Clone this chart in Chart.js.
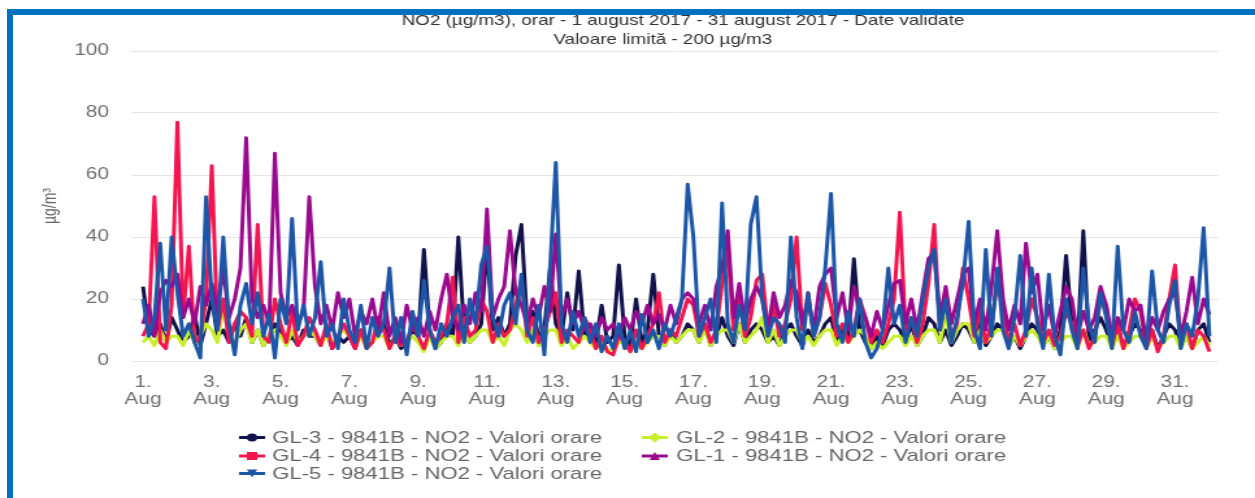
<!DOCTYPE html>
<html><head><meta charset="utf-8">
<script src="https://cdn.jsdelivr.net/npm/chart.js@4.4.1/dist/chart.umd.min.js"></script>
<style>
html,body{margin:0;padding:0;background:#fff;overflow:hidden;width:1255px;height:498px;}
#wrap{position:absolute;left:0;top:0;width:966px;height:498px;transform:scaleX(1.2992);transform-origin:0 0;}
#frame{position:absolute;left:7px;top:9px;width:1260px;height:500px;border-left:6px solid #0070c0;border-top:6px solid #0070c0;pointer-events:none;}
</style></head><body>
<div id="wrap"><canvas id="c" width="966" height="498"></canvas></div>
<div id="frame"></div>
<script>
// ---- texts ----
const TITLE = 'NO2 (µg/m3), orar - 1 august 2017 - 31 august 2017 - Date validate';
const SUBTITLE = 'Valoare limită - 200 µg/m3';
const Y_TITLE = 'µg/m³';
const MONTH = 'Aug';
const tickDays = [1,3,5,7,9,11,13,15,17,19,21,23,25,27,29,31];
const yTicks = [0,20,40,60,80,100];
const seriesNames = ['GL-3 - 9841B - NO2 - Valori orare','GL-2 - 9841B - NO2 - Valori orare','GL-4 - 9841B - NO2 - Valori orare','GL-1 - 9841B - NO2 - Valori orare','GL-5 - 9841B - NO2 - Valori orare'];
const STEP_HOURS = 4; // one value every 4 hours, starting 1 Aug 00:00

// ---- values (µg/m3), 6 per day ----
const GL3 = [
24,10,8,12,6,14, 10,6,8,15,5,12, 20,8,10,6,12,8, 14,6,10,5,8,12, 10,6,8,5,10,8,
8,5,10,4,8,6, 8,4,10,5,6,10, 12,5,8,4,6,10, 8,36,10,4,6,12, 8,40,10,6,8,12,
37,10,14,8,12,34, 44,12,16,8,10,30, 12,8,22,10,29,8, 10,6,18,6,8,31, 8,5,20,6,10,28,
8,5,10,6,8,12, 10,6,12,5,8,14, 8,5,12,6,10,12, 10,6,8,5,10,12, 8,5,10,6,8,12,
14,6,10,8,33,10, 6,4,8,5,10,12, 10,6,12,5,8,14, 12,6,10,5,8,12, 10,6,12,5,8,12,
10,5,8,4,8,12, 10,5,8,4,10,34, 12,5,42,6,10,14, 10,5,12,4,8,12, 10,5,10,4,8,12,
10,5,8,4,10,12, 6];
const GL2 = [
6,8,5,10,6,8, 8,5,10,6,8,12, 10,6,18,8,6,10, 12,6,10,5,8,10, 8,5,10,6,8,10,
8,5,8,6,8,10, 8,5,8,4,6,8, 8,4,8,5,6,8, 6,3,8,4,6,8, 8,5,10,6,8,10,
10,6,8,5,10,12, 10,6,10,5,8,10, 10,5,8,4,6,8, 6,4,6,3,4,6, 6,3,6,4,6,8,
8,5,8,6,8,10, 10,6,10,5,8,10, 10,6,12,6,8,10, 14,6,10,5,8,10, 10,6,8,5,8,10,
10,5,8,6,8,10, 8,4,6,4,6,8, 8,5,8,5,8,10, 10,6,15,6,10,12, 12,6,10,6,8,10,
10,5,8,5,8,10, 8,5,8,4,6,8, 8,4,10,5,6,8, 8,4,8,4,6,8, 8,4,8,4,6,8,
8,4,8,4,6,8, 5];
const GL4 = [
8,12,53,6,4,18, 77,14,37,6,8,20, 63,10,20,6,12,16, 14,8,44,8,6,20, 12,6,16,5,8,14,
10,5,12,4,8,12, 8,4,10,4,6,14, 10,4,8,5,6,12, 8,4,10,6,8,12, 27,6,14,8,10,20,
16,6,12,8,10,18, 26,8,14,6,10,16, 22,6,10,8,6,14, 10,4,8,3,2,8, 6,3,10,4,8,12,
22,6,10,8,14,20, 18,8,12,6,10,25, 36,10,20,8,14,26, 28,10,18,8,12,20, 40,10,22,8,14,25,
18,8,12,6,10,20, 14,6,10,6,12,20, 48,10,14,6,12,25, 44,10,20,8,12,30, 20,8,16,6,12,25,
18,6,12,5,10,20, 14,6,10,5,8,16, 12,5,10,4,8,20, 18,5,12,4,10,20, 16,4,10,3,8,20,
31,6,12,4,10,8, 3];
const GL1 = [
12,18,8,22,26,24, 28,14,20,12,24,18, 25,16,30,14,20,30, 72,20,14,18,12,67, 22,14,18,12,16,53,
24,12,18,10,22,14, 20,8,16,12,20,10, 22,8,14,6,18,10, 14,8,16,10,20,28, 14,10,18,12,22,16,
49,14,20,24,42,22, 18,12,20,14,24,16, 41,14,20,12,16,10, 12,8,14,10,12,8, 14,10,16,12,18,12,
15,10,18,12,20,22, 20,12,18,10,24,30, 42,14,25,12,20,24, 20,10,22,14,18,26, 22,12,20,10,24,28,
30,14,22,10,24,18, 14,8,16,10,18,25, 26,12,20,10,22,33, 35,14,24,12,20,28, 30,12,20,10,24,42,
20,10,18,12,38,22, 28,10,18,8,16,24, 20,8,16,10,14,24, 18,8,14,10,20,16, 18,6,14,10,16,20,
22,8,16,27,12,20, 15];
const GL5 = [
20,8,14,38,10,40, 22,8,12,6,1,53, 20,10,40,12,2,18, 25,12,22,8,15,1, 20,12,46,10,18,8,
14,32,8,12,4,20, 10,6,18,4,14,8, 12,30,6,14,2,16, 8,26,10,4,12,8, 14,18,6,20,12,31,
37,14,8,18,22,12, 28,10,6,18,2,30, 64,12,6,16,8,14, 6,12,3,8,4,12, 4,10,3,15,6,10,
4,12,8,14,20,57, 40,8,14,20,6,51, 12,6,18,10,44,53, 20,8,14,12,6,40, 14,4,22,8,14,30,
54,12,6,16,8,20, 6,1,4,10,30,12, 18,6,14,8,20,30, 36,10,20,6,14,25, 45,10,4,36,8,30,
10,4,14,34,8,30, 12,4,28,8,2,20, 10,4,30,12,6,22, 14,4,37,10,6,16, 8,4,29,10,6,18,
26,4,12,8,20,43, 8];

const seriesValues = [GL3, GL2, GL4, GL1, GL5];
const seriesColors = ['#12124a', '#c8f02a', '#f2154f', '#9a0a8e', '#1d56a6'];
const seriesMarkers = ['circle', 'diamond', 'square', 'triangle', 'triangleDown'];
const seriesOrder = [5, 4, 3, 2, 1]; // GL-5 drawn on top

const toPoints = vals => vals.map((v, i) => ({ x: i * STEP_HOURS / 24, y: v }));

function drawMarker(ctx, type, x, y, r) {
  ctx.beginPath();
  if (type === 'circle') { ctx.arc(x, y, r, 0, Math.PI * 2); }
  else if (type === 'square') { ctx.rect(x - r, y - r, 2 * r, 2 * r); }
  else if (type === 'diamond') { ctx.moveTo(x, y - r - 1); ctx.lineTo(x + r + 1, y); ctx.lineTo(x, y + r + 1); ctx.lineTo(x - r - 1, y); ctx.closePath(); }
  else if (type === 'triangle') { ctx.moveTo(x, y - r); ctx.lineTo(x + r, y + r); ctx.lineTo(x - r, y + r); ctx.closePath(); }
  else { ctx.moveTo(x - r, y - r); ctx.lineTo(x + r, y - r); ctx.lineTo(x, y + r); ctx.closePath(); }
  ctx.fill();
}

const overlay = {
  id: 'overlay',
  afterDraw(chart) {
    const ctx = chart.ctx;
    ctx.save();
    ctx.fillStyle = '#333333';
    ctx.textBaseline = 'middle';
    ctx.textAlign = 'center';
    ctx.font = '14.5px "Liberation Sans", Arial, sans-serif';
    ctx.fillText(TITLE, 525.7, 20.5);
    ctx.fillText(SUBTITLE, 510.2, 39.5);
    // legend, 2 columns
    const colSym = [184, 494], colText = [209.5, 520.5], rowY = [437.5, 456, 473.5];
    ctx.font = '17px "Liberation Sans", Arial, sans-serif';
    ctx.textAlign = 'left';
    chart.data.datasets.forEach((ds, i) => {
      const c = i % 2, r = Math.floor(i / 2);
      const x0 = colSym[c], y = rowY[r];
      ctx.strokeStyle = ds.borderColor;
      ctx.fillStyle = ds.borderColor;
      ctx.lineWidth = 3;
      ctx.beginPath(); ctx.moveTo(x0, y); ctx.lineTo(x0 + 20, y); ctx.stroke();
      drawMarker(ctx, seriesMarkers[i], x0 + 10, y, 4);
      ctx.fillStyle = '#666666';
      ctx.fillText(ds.label, colText[c], y + 0.5);
    });
    ctx.restore();
  }
};

new Chart(document.getElementById('c'), {
  type: 'line',
  data: {
    datasets: seriesNames.map((name, i) => ({
      label: name,
      data: toPoints(seriesValues[i]),
      borderColor: seriesColors[i],
      backgroundColor: seriesColors[i],
      borderWidth: 3,
      pointRadius: 0,
      tension: 0,
      order: seriesOrder[i],
      borderJoinStyle: 'round'
    }))
  },
  options: {
    responsive: false,
    animation: false,
    devicePixelRatio: 1,
    layout: { padding: { top: 51, right: 28.5, bottom: 77, left: 0 } },
    plugins: { legend: { display: false }, tooltip: { enabled: false }, title: { display: false } },
    scales: {
      x: {
        type: 'linear',
        min: -0.327,
        max: 31.25,
        afterFit: s => { s.height = 60; },
        afterBuildTicks: s => { s.ticks = tickDays.map(d => ({ value: d - 1 })); },
        grid: { display: false, drawTicks: false },
        border: { display: false },
        ticks: {
          autoSkip: false,
          maxRotation: 0,
          padding: 13.5,
          color: '#6f6f6f',
          font: { family: '"Liberation Sans", Arial, sans-serif', size: 16, lineHeight: 1.0625 },
          callback: v => [(v + 1) + '.', MONTH]
        }
      },
      y: {
        min: 0,
        max: 100,
        afterFit: s => { s.width = 101.4; },
        afterBuildTicks: s => { s.ticks = yTicks.map(v => ({ value: v })); },
        grid: { color: '#e6e6e6', lineWidth: 1, drawTicks: false },
        border: { display: false },
        ticks: {
          padding: 17.5,
          color: '#6f6f6f',
          font: { family: '"Liberation Sans", Arial, sans-serif', size: 16 }
        },
        title: {
          display: true,
          text: Y_TITLE,
          color: '#666666',
          padding: { top: 30.6, bottom: 0 },
          font: { family: '"Liberation Sans", Arial, sans-serif', size: 14 }
        }
      }
    }
  },
  plugins: [overlay]
});
</script>
</body></html>
